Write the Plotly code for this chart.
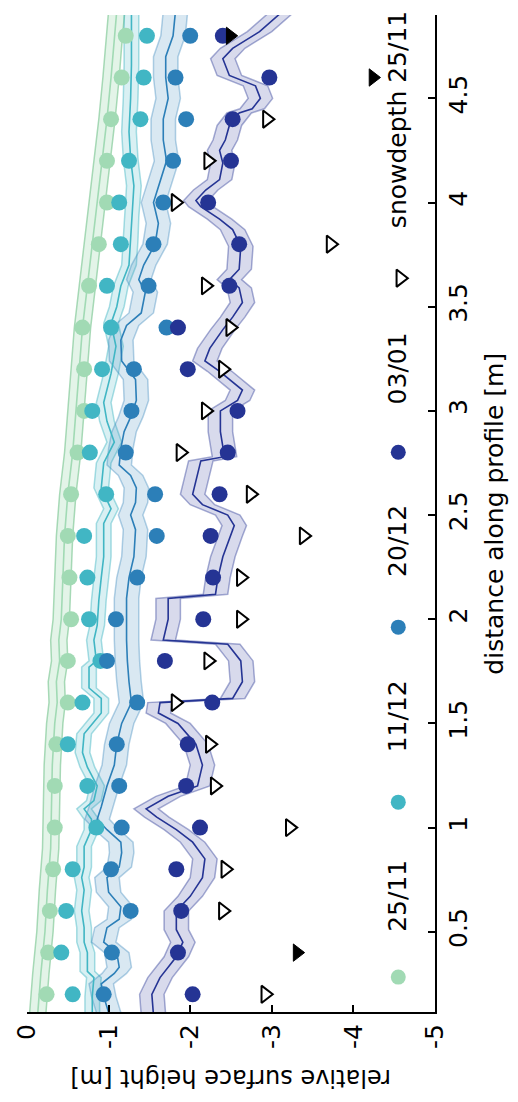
import plotly.graph_objects as go

# ---------------- data ----------------
# probe positions along the profile [m]
probe_d = [0.2, 0.4, 0.6, 0.8, 1.0, 1.2, 1.4, 1.6, 1.8, 2.0, 2.2, 2.4,
           2.6, 2.8, 3.0, 3.2, 3.4, 3.6, 3.8, 4.0, 4.2, 4.4, 4.6, 4.8]

# probed surface heights [m]
probe_2511 = [-0.24, -0.26, -0.28, -0.32, -0.34, -0.34, -0.36, -0.50, -0.50, -0.54, -0.52, -0.50,
              -0.54, -0.62, -0.70, -0.70, -0.68, -0.76, -0.88, -0.98, -0.98, -1.03, -1.16, -1.21]
probe_1112 = [-0.56, -0.42, -0.48, -0.56, -0.85, -0.74, -0.50, -0.68, -0.90, -0.76, -0.74, -0.70,
              -0.97, -0.77, -0.80, -0.92, -1.03, -0.98, -1.15, -1.13, -1.25, -1.39, -1.43, -1.47]
probe_2012 = [-0.94, -1.04, -1.27, -1.03, -1.16, -1.13, -1.10, -1.35, -0.98, -1.09, -1.35, -1.59,
              -1.57, -1.21, -1.28, -1.31, -1.71, -1.49, -1.55, -1.67, -1.79, -1.95, -1.82, -2.00]
probe_0301 = [-2.03, -1.85, -1.89, -1.83, -2.12, -1.95, -1.97, -2.27, -1.69, -2.16, -2.28, -2.25,
              -2.36, -2.46, -2.58, -1.97, -1.85, -2.48, -2.60, -2.22, -2.50, -2.52, -2.97, -2.40]

# snow depth on 25/11 (relative height of snow base) [m]
snowdepth_2511 = [-2.92, -3.31, -2.40, -2.43, -3.22, -2.30, -2.24, -1.82, -2.22, -2.62, -2.62, -3.39,
                  -2.74, -1.88, -2.19, -2.40, -2.49, -2.19, -3.72, -1.82, -2.22, -2.94, -4.24, -2.49]
snow_solid = [False, True, False, False, False, False, False, False, False, False, False, False,
              False, False, False, False, False, False, False, False, False, False, True, True]

# continuous surface profiles [m]
prof_d_2511 = [0.10, 0.30, 0.50, 0.70, 0.90, 1.10, 1.30, 1.50, 1.60, 1.70, 1.80, 1.90, 2.00, 2.20,
               2.40, 2.60, 2.80, 3.00, 3.20, 3.40, 3.60, 3.80, 4.00, 4.20, 4.40, 4.60, 4.80, 4.92]
prof_h_2511 = [-0.13, -0.17, -0.22, -0.25, -0.29, -0.30, -0.31, -0.34, -0.37, -0.36, -0.40, -0.39,
               -0.42, -0.44, -0.46, -0.50, -0.56, -0.60, -0.64, -0.68, -0.74, -0.80, -0.86, -0.92,
               -0.98, -1.03, -1.07, -1.10]

prof_d_1112 = [0.10, 0.19, 0.28, 0.31, 0.40, 0.45, 0.52, 0.60, 0.70, 0.76, 0.81, 0.91, 0.99, 1.04,
               1.09, 1.13, 1.20, 1.29, 1.36, 1.45, 1.55, 1.62, 1.67, 1.77, 1.80, 1.90, 1.97, 2.09,
               2.20, 2.30, 2.46, 2.53, 2.63, 2.75, 2.85, 2.95, 3.04, 3.18, 3.31, 3.42, 3.50, 3.60,
               3.70, 3.82, 3.93, 4.08, 4.21, 4.34, 4.50, 4.66, 4.92]
prof_h_1112 = [-0.80, -0.80, -0.82, -0.74, -0.74, -0.70, -0.70, -0.67, -0.70, -0.67, -0.70, -0.70,
               -0.79, -0.79, -0.70, -0.82, -0.86, -0.74, -0.68, -0.70, -0.91, -0.91, -0.76, -0.76,
               -0.85, -0.82, -0.86, -0.88, -0.91, -0.94, -0.94, -1.03, -0.91, -0.94, -1.07, -0.98,
               -0.94, -1.03, -1.09, -1.03, -1.10, -1.15, -1.25, -1.27, -1.28, -1.31, -1.27, -1.25,
               -1.27, -1.28, -1.28]

prof_d_2012 = [0.10, 0.19, 0.25, 0.30, 0.33, 0.40, 0.45, 0.52, 0.56, 0.62, 0.69, 0.76, 0.81, 0.88,
               0.93, 0.99, 1.04, 1.10, 1.20, 1.30, 1.40, 1.50, 1.60, 1.70, 1.80, 1.90, 2.00, 2.10,
               2.20, 2.30, 2.43, 2.50, 2.56, 2.63, 2.69, 2.74, 2.82, 2.90, 2.97, 3.05, 3.15, 3.24,
               3.34, 3.41, 3.47, 3.57, 3.63, 3.70, 3.80, 3.90, 4.00, 4.10, 4.20, 4.30, 4.40, 4.50,
               4.60, 4.70, 4.80, 4.92]
prof_h_2012 = [-1.01, -0.94, -0.91, -1.07, -1.13, -1.10, -0.94, -0.98, -1.13, -1.15, -1.00, -0.98,
               -1.13, -1.16, -1.15, -0.98, -0.86, -0.91, -0.98, -1.07, -1.10, -1.16, -1.28, -1.25,
               -1.23, -1.22, -1.22, -1.22, -1.25, -1.31, -1.33, -1.27, -1.33, -1.34, -1.27, -1.13,
               -1.15, -1.19, -1.27, -1.34, -1.33, -1.16, -1.15, -1.22, -1.40, -1.45, -1.37, -1.43,
               -1.57, -1.61, -1.55, -1.63, -1.71, -1.67, -1.67, -1.73, -1.70, -1.70, -1.79, -1.82]

prof_d_0301 = [0.10, 0.20, 0.28, 0.38, 0.45, 0.51, 0.60, 0.67, 0.76, 0.85, 0.93, 0.99, 1.05, 1.09,
               1.15, 1.20, 1.30, 1.40, 1.50, 1.55, 1.60, 1.62, 1.70, 1.80, 1.88, 1.90, 2.00, 2.10,
               2.12, 2.20, 2.30, 2.40, 2.45, 2.50, 2.55, 2.60, 2.70, 2.76, 2.78, 2.90, 3.00, 3.05,
               3.10, 3.14, 3.19, 3.24, 3.30, 3.39, 3.45, 3.52, 3.59, 3.63, 3.68, 3.79, 3.87, 3.92,
               3.98, 4.01, 4.06, 4.11, 4.19, 4.25, 4.30, 4.37, 4.43, 4.45, 4.50, 4.56, 4.61, 4.69,
               4.74, 4.82, 4.92]
prof_h_0301 = [-1.55, -1.53, -1.63, -1.83, -1.91, -1.83, -1.83, -2.00, -2.15, -2.18, -2.03, -1.83,
               -1.59, -1.46, -1.73, -2.09, -2.15, -2.07, -1.85, -1.61, -1.63, -2.52, -2.64, -2.62,
               -2.46, -1.67, -1.73, -1.73, -2.31, -2.34, -2.40, -2.49, -2.54, -2.46, -2.15, -2.03,
               -2.09, -2.13, -2.42, -2.37, -2.37, -2.58, -2.64, -2.52, -2.36, -2.18, -2.24, -2.40,
               -2.52, -2.64, -2.60, -2.48, -2.60, -2.62, -2.52, -2.36, -2.13, -2.07, -2.19, -2.36,
               -2.40, -2.36, -2.43, -2.48, -2.60, -2.76, -2.86, -2.80, -2.48, -2.40, -2.52, -2.85,
               -3.14]

# profile uncertainty (half width of the shaded band) [m]
band_2511 = 0.10
band_1112 = 0.09
band_2012 = 0.15
band_0301 = 0.15

dates = ["25/11", "11/12", "20/12", "03/01"]
dist_ticks = [0.5, 1, 1.5, 2, 2.5, 3, 3.5, 4, 4.5]
height_ticks = [0, -1, -2, -3, -4, -5]

# ---------------- styling ----------------
FONT = "DejaVu Sans"
FS = 25
colors = ["#a1dab4", "#41b6c4", "#2c7fb8", "#253494"]
band_fill = ["rgba(161,218,180,0.30)", "rgba(65,182,196,0.20)",
             "rgba(44,127,184,0.18)", "rgba(37,52,148,0.18)"]
band_edge = ["rgba(140,205,160,0.75)", "rgba(65,182,196,0.45)",
             "rgba(44,127,184,0.35)", "rgba(37,52,148,0.40)"]

profiles = [(prof_d_2511, prof_h_2511, band_2511),
            (prof_d_1112, prof_h_1112, band_1112),
            (prof_d_2012, prof_h_2012, band_2012),
            (prof_d_0301, prof_h_0301, band_0301)]
probes = [probe_2511, probe_1112, probe_2012, probe_0301]

fig = go.Figure()

# shaded uncertainty bands
for (pd_, ph, b), fc, ec in zip(profiles, band_fill, band_edge):
    xs = [h + b for h in ph] + [h - b for h in reversed(ph)]
    ys = list(pd_) + list(reversed(pd_))
    fig.add_trace(go.Scatter(x=xs, y=ys, mode="lines", fill="toself",
                             fillcolor=fc, line=dict(color=ec, width=1.5),
                             hoverinfo="skip", showlegend=False))

# profile lines
for (pd_, ph, b), c in zip(profiles, colors):
    fig.add_trace(go.Scatter(x=ph, y=pd_, mode="lines",
                             line=dict(color=c, width=1.6), showlegend=False))

# probe dots
for vals, c in zip(probes, colors):
    fig.add_trace(go.Scatter(x=vals, y=probe_d, mode="markers",
                             marker=dict(color=c, size=16, line=dict(width=0)),
                             showlegend=False))

# snow depth markers
open_x = [v for v, s in zip(snowdepth_2511, snow_solid) if not s]
open_y = [d for d, s in zip(probe_d, snow_solid) if not s]
solid_x = [v for v, s in zip(snowdepth_2511, snow_solid) if s]
solid_y = [d for d, s in zip(probe_d, snow_solid) if s]
fig.add_trace(go.Scatter(x=open_x, y=open_y, mode="markers",
                         marker=dict(symbol="triangle-right", size=15, color="white",
                                     line=dict(color="black", width=2)),
                         showlegend=False))
fig.add_trace(go.Scatter(x=solid_x, y=solid_y, mode="markers",
                         marker=dict(symbol="triangle-right", size=15, color="black",
                                     line=dict(color="black", width=1)),
                         showlegend=False))

# hand-placed key (paper-fraction overlay axes)
key_x = 0.91
key_marker_y = [0.035, 0.2105, 0.386, 0.5615, 0.736]
key_label_y = [0.117, 0.297, 0.473, 0.646, 0.895]
key_labels = dates + ["snowdepth 25/11"]
for i, c in enumerate(colors):
    fig.add_trace(go.Scatter(x=[key_x], y=[key_marker_y[i]], xaxis="x2", yaxis="y2",
                             mode="markers", marker=dict(color=c, size=15),
                             showlegend=False))
fig.add_trace(go.Scatter(x=[key_x + 0.005], y=[key_marker_y[4]], xaxis="x2", yaxis="y2",
                         mode="markers",
                         marker=dict(symbol="triangle-right", size=15, color="white",
                                     line=dict(color="black", width=2)),
                         showlegend=False))

annotations = []
for lab, ly in zip(key_labels, key_label_y):
    annotations.append(dict(text=lab, x=key_x - 0.002, y=ly, xref="paper", yref="paper",
                            showarrow=False, textangle=-90, xanchor="center", yanchor="middle",
                            font=dict(family=FONT, size=FS, color="black")))
annotations.append(dict(text="distance along profile [m]", x=1.145, y=0.5, xref="paper",
                        yref="paper", showarrow=False, textangle=-90,
                        xanchor="center", yanchor="middle",
                        font=dict(family=FONT, size=FS, color="black")))
annotations.append(dict(text="relative surface height [m]", x=0.5, y=-0.066, xref="paper",
                        yref="paper", showarrow=False, textangle=180,
                        xanchor="center", yanchor="middle",
                        font=dict(family=FONT, size=24, color="black")))

axis_common = dict(showgrid=False, zeroline=False, showline=True, linecolor="black",
                   linewidth=2, ticks="inside", ticklen=7, tickwidth=2, tickcolor="black",
                   tickangle=-90, tickfont=dict(family=FONT, size=FS, color="black"))

fig.update_layout(
    width=518, height=1102,
    margin=dict(l=22, r=83, t=15, b=90),
    paper_bgcolor="white", plot_bgcolor="white",
    showlegend=False,
    xaxis=dict(range=[0, -5], tickvals=height_ticks,
               ticktext=[str(t) for t in height_ticks], **axis_common),
    yaxis=dict(range=[0.115, 4.9], side="right", tickvals=dist_ticks,
               ticktext=[("%g" % t) for t in dist_ticks], **axis_common),
    xaxis2=dict(range=[0, 1], overlaying="x", visible=False),
    yaxis2=dict(range=[0, 1], overlaying="y", visible=False),
    annotations=annotations,
)

fig.write_html("out.html")
